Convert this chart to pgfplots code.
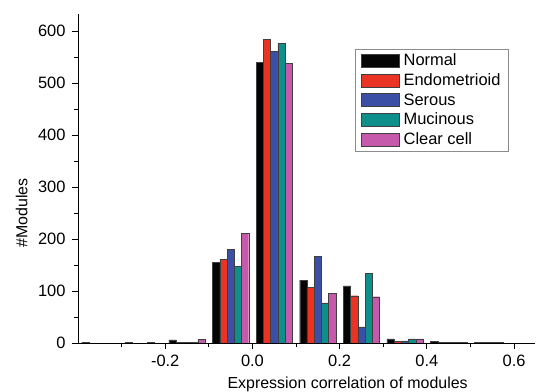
\documentclass[border=0pt]{standalone}
\usepackage{pgfplots}
\pgfplotsset{compat=1.18}
\usepackage{fontspec}
\setmainfont{Liberation Sans}
\definecolor{cNormal}{HTML}{050505}
\definecolor{cEndo}{HTML}{EA3323}
\definecolor{cSerous}{HTML}{3C4FA6}
\definecolor{cMuc}{HTML}{0E8F8B}
\definecolor{cClear}{HTML}{C659AC}
\begin{document}
\begin{tikzpicture}
\begin{axis}[
  scale only axis,
  width=457bp, height=329bp,
  xmin=-0.4, xmax=0.648,
  ymin=0, ymax=633,
  axis lines=left,
  axis line style={-, line width=0.9pt},
  ybar=0pt,
  bar width=0.0166,
  xtick={-0.2,0,0.2,0.4,0.6},
  minor xtick={-0.3,-0.1,0.1,0.3,0.5},
  ytick={0,100,...,600},
  minor ytick={50,150,...,550},
  tick align=outside,
  tick pos=left,
  major tick length=6bp,
  minor tick length=3.5bp,
  tick style={black, line width=0.8pt},
  /pgf/number format/assume math mode=true,
  xticklabel style={/pgf/number format/.cd, fixed, fixed zerofill, precision=1, /tikz/.cd, yshift=-3bp},
  yticklabel style={/pgf/number format/.cd, fixed, precision=0, /tikz/.cd, xshift=-3bp},
  ticklabel style={font=\fontsize{16.5}{18}\selectfont},
  label style={font=\fontsize{16}{18}\selectfont},
  ylabel={\#Modules},
  ylabel style={at={(axis description cs:0,0.395)}, anchor=south, yshift=47bp},
  xlabel={Expression correlation of modules},
  xlabel style={at={(axis description cs:0.59,0)}, anchor=north, yshift=-30bp},
  legend style={at={(axis description cs:0.606,0.895)}, anchor=north west,
     draw=black!45, line width=0.6pt, font=\fontsize{16.5}{18}\selectfont,
     row sep=2.5bp, inner xsep=6bp, inner ysep=3bp},
  legend cell align=left,
  legend image code/.code={\draw[#1] (0bp,-6.5bp) rectangle (38bp,6.5bp); \path (40bp,0bp);},
  every axis plot/.append style={draw=black!75, line width=0.4pt},
]
\addplot[fill=cNormal] coordinates {(-0.35,1) (-0.25,1) (-0.15,6) (-0.05,155) (0.05,540) (0.15,121) (0.25,110) (0.35,8) (0.45,3) (0.55,1)};
\addplot[fill=cEndo] coordinates {(-0.35,0) (-0.25,0) (-0.15,1) (-0.05,161) (0.05,584) (0.15,107) (0.25,91) (0.35,3) (0.45,1) (0.55,1)};
\addplot[fill=cSerous] coordinates {(-0.35,0) (-0.25,0) (-0.15,1) (-0.05,180) (0.05,561) (0.15,167) (0.25,31) (0.35,4) (0.45,1) (0.55,1)};
\addplot[fill=cMuc] coordinates {(-0.35,0) (-0.25,1) (-0.15,1) (-0.05,147) (0.05,577) (0.15,77) (0.25,134) (0.35,8) (0.45,1) (0.55,1)};
\addplot[fill=cClear] coordinates {(-0.35,0) (-0.25,0) (-0.15,7) (-0.05,211) (0.05,538) (0.15,95) (0.25,89) (0.35,8) (0.45,1) (0.55,0)};
\legend{Normal, Endometrioid, Serous, Mucinous, Clear cell}
\end{axis}
\pgfresetboundingbox
\path[use as bounding box] (-78bp,-49bp) rectangle (459bp,343bp);
\end{tikzpicture}
\end{document}
